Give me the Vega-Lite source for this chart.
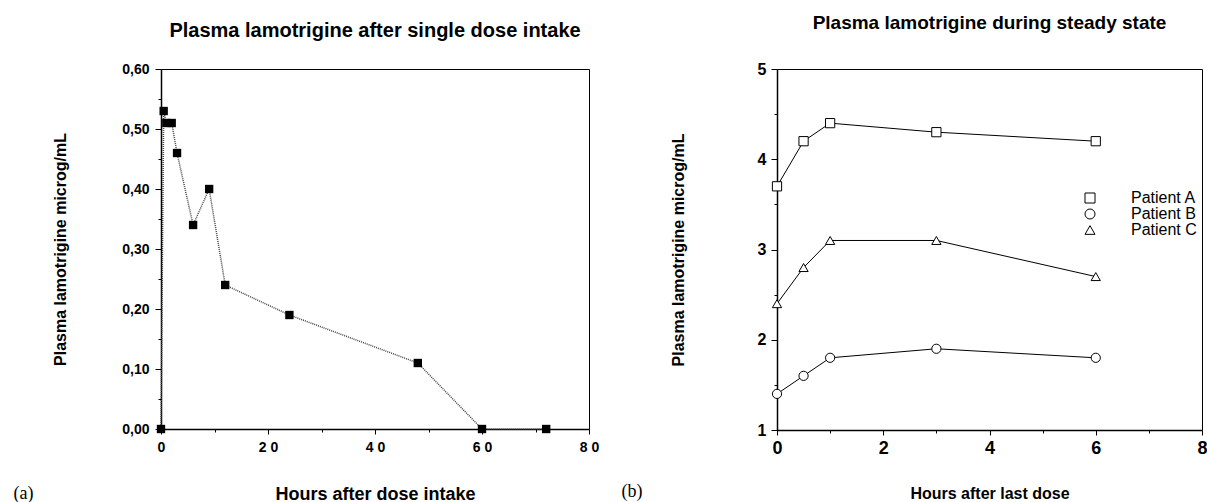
{
  "$schema": "https://vega.github.io/schema/vega-lite/v6.json",
  "padding": {"left": 12, "top": 13, "right": 0, "bottom": 0},
  "background": "white",
  "spacing": 20,
  "config": {
    "font": "Liberation Sans",
    "view": {"stroke": "black", "strokeWidth": 1},
    "axis": {"grid": false, "domainColor": "black", "tickColor": "black", "labelColor": "black", "titleColor": "black", "labelFontWeight": "bold", "titleFontWeight": "bold", "labelFont": "Liberation Sans", "titleFont": "Liberation Sans", "labelFlush": false, "domainWidth": 1.5},
    "title": {"font": "Liberation Sans", "fontWeight": "bold", "color": "black"}
  },
  "hconcat": [
    {
      "title": {"text": "Plasma lamotrigine after single dose intake", "fontSize": 20, "offset": 21},
      "width": 428,
      "height": 360,
      "data": {"values": [
        {"hour": 0, "conc": 0},
        {"hour": 0.5, "conc": 0.53},
        {"hour": 1, "conc": 0.51},
        {"hour": 2, "conc": 0.51},
        {"hour": 3, "conc": 0.46},
        {"hour": 6, "conc": 0.34},
        {"hour": 9, "conc": 0.40},
        {"hour": 12, "conc": 0.24},
        {"hour": 24, "conc": 0.19},
        {"hour": 48, "conc": 0.11},
        {"hour": 60, "conc": 0},
        {"hour": 72, "conc": 0}
      ]},
      "layer": [
        {
          "mark": {"type": "line", "strokeDash": [1, 1], "strokeWidth": 1.5, "color": "#444"},
          "encoding": {
            "x": {"field": "hour", "type": "quantitative", "scale": {"domain": [0, 80], "nice": false},
              "axis": {"title": "Hours after dose intake", "titleFontSize": 18, "labelFontSize": 14, "values": [0, 20, 40, 60, 80], "tickSize": 5, "labelPadding": 6, "labelExpr": "join(split(datum.label, ''), ' ')", "titlePadding": 31}},
            "y": {"field": "conc", "type": "quantitative", "scale": {"domain": [0, 0.6], "nice": false},
              "axis": {"title": "Plasma lamotrigine microg/mL", "titleFontSize": 16, "labelFontSize": 14, "values": [0, 0.1, 0.2, 0.3, 0.4, 0.5, 0.6], "labelExpr": "replace(format(datum.value, '.2f'), '.', ',')", "tickSize": 6, "labelPadding": 6, "titlePadding": 53}}
          }
        },
        {
          "mark": {"type": "square", "filled": true, "color": "black", "size": 70, "opacity": 1},
          "encoding": {
            "x": {"field": "hour", "type": "quantitative", "axis": null},
            "y": {"field": "conc", "type": "quantitative", "axis": null}
          }
        },
        {
          "mark": {"type": "point", "opacity": 0},
          "encoding": {
            "x": {"field": "hour", "type": "quantitative",
              "axis": {"orient": "bottom", "values": [10, 30, 50, 70], "tickSize": 3, "labels": false, "domain": false, "title": "(a)", "titleFont": "Liberation Serif", "titleFontWeight": "normal", "titleFontSize": 18, "titleAnchor": "start", "titleAlign": "left", "titleX": -148, "titleY": 64, "titleBaseline": "middle"}},
            "y": {"field": "conc", "type": "quantitative",
              "axis": {"orient": "left", "values": [0.05, 0.15, 0.25, 0.35, 0.45, 0.55], "tickSize": 3, "labels": false, "domain": false, "title": null}}
          }
        }
      ],
      "resolve": {"axis": {"x": "independent", "y": "independent"}}
    },
    {
      "title": {"text": "Plasma lamotrigine during steady state", "fontSize": 19, "offset": 28},
      "width": 425,
      "height": 361,
      "data": {"values": [
        {"patient": "Patient A", "hour": 0, "conc": 3.7},
        {"patient": "Patient A", "hour": 0.5, "conc": 4.2},
        {"patient": "Patient A", "hour": 1, "conc": 4.4},
        {"patient": "Patient A", "hour": 3, "conc": 4.3},
        {"patient": "Patient A", "hour": 6, "conc": 4.2},
        {"patient": "Patient B", "hour": 0, "conc": 1.4},
        {"patient": "Patient B", "hour": 0.5, "conc": 1.6},
        {"patient": "Patient B", "hour": 1, "conc": 1.8},
        {"patient": "Patient B", "hour": 3, "conc": 1.9},
        {"patient": "Patient B", "hour": 6, "conc": 1.8},
        {"patient": "Patient C", "hour": 0, "conc": 2.4},
        {"patient": "Patient C", "hour": 0.5, "conc": 2.8},
        {"patient": "Patient C", "hour": 1, "conc": 3.1},
        {"patient": "Patient C", "hour": 3, "conc": 3.1},
        {"patient": "Patient C", "hour": 6, "conc": 2.7}
      ]},
      "layer": [
        {
          "mark": {"type": "line", "color": "black", "strokeWidth": 1},
          "encoding": {
            "x": {"field": "hour", "type": "quantitative", "scale": {"domain": [0, 8], "nice": false},
              "axis": {"title": "Hours after last dose", "titleFontSize": 16, "labelFontSize": 18, "values": [0, 2, 4, 6, 8], "tickSize": 5, "labelPadding": 4, "titlePadding": 28}},
            "y": {"field": "conc", "type": "quantitative", "scale": {"domain": [1, 5], "nice": false},
              "axis": {"title": "Plasma lamotrigine microg/mL", "titleFontSize": 16, "labelFontSize": 16, "values": [1, 2, 3, 4, 5], "tickSize": 6, "labelPadding": 5, "titlePadding": 71}},
            "detail": {"field": "patient"}
          }
        },
        {
          "mark": {"type": "point", "filled": false, "fill": "white", "strokeWidth": 1, "opacity": 1, "size": 85},
          "encoding": {
            "x": {"field": "hour", "type": "quantitative", "axis": null},
            "y": {"field": "conc", "type": "quantitative", "axis": null},
            "color": {"field": "patient", "type": "nominal",
              "scale": {"domain": ["Patient A", "Patient B", "Patient C"], "range": ["black", "black", "black"]},
              "legend": {
                "orient": "none", "legendX": 921, "legendY": 121, "title": null, "padding": 0,
                "labelFont": "Liberation Sans", "labelFontSize": 16, "labelFontWeight": "normal", "labelColor": "black",
                "labelOffset": 33, "rowPadding": -2, "symbolSize": 100, "symbolStrokeWidth": 1, "symbolFillColor": "white"
              }},
            "shape": {"field": "patient", "type": "nominal",
              "scale": {"domain": ["Patient A", "Patient B", "Patient C"], "range": ["square", "circle", "triangle-up"]},
              "legend": {
                "orient": "none", "legendX": 921, "legendY": 121, "title": null, "padding": 0,
                "labelFont": "Liberation Sans", "labelFontSize": 16, "labelFontWeight": "normal", "labelColor": "black",
                "labelOffset": 33, "rowPadding": -2, "symbolSize": 100, "symbolStrokeWidth": 1, "symbolFillColor": "white"
              }
            }
          }
        },
        {
          "mark": {"type": "point", "opacity": 0},
          "encoding": {
            "x": {"field": "hour", "type": "quantitative",
              "axis": {"orient": "bottom", "values": [1, 3, 5, 7], "tickSize": 3, "labels": false, "domain": false, "title": "(b)", "titleFont": "Liberation Serif", "titleFontWeight": "normal", "titleFontSize": 18, "titleAnchor": "start", "titleAlign": "left", "titleX": -156, "titleY": 61, "titleBaseline": "middle"}},
            "y": {"field": "conc", "type": "quantitative",
              "axis": {"orient": "left", "values": [1.5, 2.5, 3.5, 4.5], "tickSize": 3, "labels": false, "domain": false, "title": null}}
          }
        }
      ],
      "resolve": {"axis": {"x": "independent", "y": "independent"}}
    }
  ]
}
